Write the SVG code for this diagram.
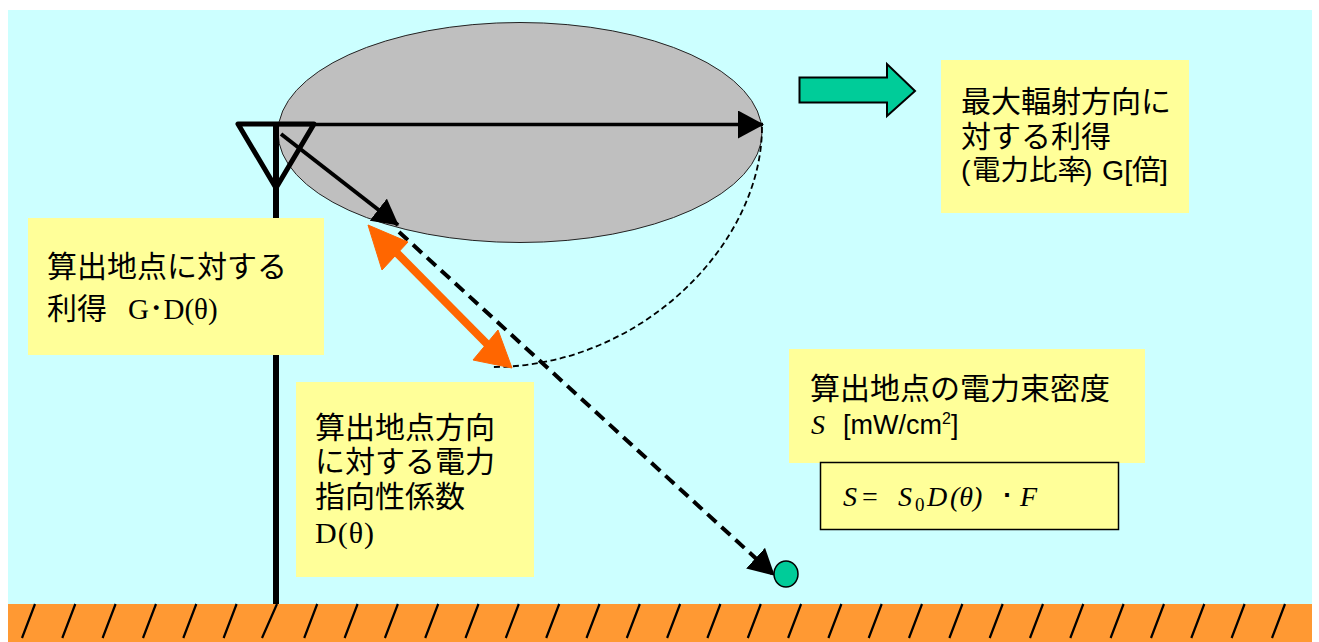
<svg xmlns="http://www.w3.org/2000/svg" width="1319" height="642" viewBox="0 0 1319 642">
<style>
.t{font-family:"Noto Sans CJK JP","Liberation Sans",sans-serif;font-size:30px;fill:#000}
.l{font-family:"Liberation Sans","Noto Sans CJK JP",sans-serif}
.s{font-family:"Liberation Serif","Noto Sans CJK JP",serif}
.m{font-family:"Liberation Serif",serif;font-style:italic;font-size:28px;fill:#000}
.box{fill:#ffff99}
.h{stroke:#000;stroke-width:2.2;fill:none}
</style>
<defs>
<marker id="bh" markerUnits="userSpaceOnUse" markerWidth="26" markerHeight="28" refX="25" refY="14" orient="auto"><path d="M0,0L26,14L0,28Z" fill="#000"/></marker>
</defs>
<rect width="1319" height="642" fill="#fff"/>
<rect x="8" y="10" width="1304" height="594" fill="#ccffff"/>
<g id="ground">
<rect x="8" y="604" width="1304" height="38" fill="#ff9933"/>
<path class="h" d="M35,604L22,638M75.300,604L62.300,638M115.600,604L102.600,638M156,604L143,638M196.300,604L183.300,638M236.600,604L223.600,638M277,604L262,638M317.200,604L304.200,638M357.600,604L344.600,638M397.900,604L384.900,638M438.200,604L425.200,638M478.500,604L465.500,638M518.800,604L505.800,638M559.200,604L546.200,638M599.500,604L586.500,638M639.800,604L626.800,638M680.100,604L667.100,638M720.400,604L707.400,638M760.800,604L747.800,638M801.100,604L788.100,638M841.400,604L828.400,638M881.700,604L868.700,638M922,604L909,638M962.400,604L949.400,638M1002.700,604L989.700,638M1043,604L1030,638M1083.300,604L1070.300,638M1123.600,604L1110.600,638M1164,604L1151,638M1204.300,604L1191.300,638M1244.600,604L1231.600,638M1285,604L1272,638"/>
</g>
<g id="pattern">
<ellipse cx="520" cy="132.500" rx="242" ry="110" fill="#bfbfbf" stroke="#222" stroke-width="1"/>
</g>
<g id="antenna">
<path d="M276,124V604" stroke="#000" stroke-width="6" fill="none"/>
<path d="M238,124H314L276,188Z" stroke="#000" stroke-width="5" fill="none" stroke-linejoin="round"/>
</g>
<g id="connectors">
<path d="M762,127C762,245 640,367 493,367" fill="none" stroke="#000" stroke-width="1.800" stroke-dasharray="6 3.500"/>
<path d="M276,124.500H763" stroke="#000" stroke-width="3.500" marker-end="url(#bh)"/>
<path d="M281,134L398,225" stroke="#000" stroke-width="4" marker-end="url(#bh)"/>
<path d="M399,232L774,575" stroke="#000" stroke-width="4" stroke-dasharray="12 7" marker-end="url(#bh)"/>
<path d="M392,248L490,347" stroke="#ff6600" stroke-width="8"/>
<path d="M368,225L408,242L382,270Z" fill="#ff6600" stroke="#ff6600" stroke-width="1"/>
<path d="M512,368L473,360L498,330Z" fill="#ff6600" stroke="#ff6600" stroke-width="1"/>
</g>
<g id="target"><ellipse cx="786" cy="574" rx="12" ry="13" fill="#00cc99" stroke="#000" stroke-width="1.500"/></g>
<g id="direction-arrow"><path d="M799.500,77.500H887V64L915,91L887,116V102.500H799.500Z" fill="#00cc99" stroke="#000" stroke-width="2"/></g>
<g id="label-max">
<rect class="box" x="941" y="60" width="248" height="153"/>
<text class="t" x="961" y="112">最大輻射方向に</text>
<text class="t" x="961" y="147">対する利得</text>
<text class="t" y="180" style="font-size:28.500px"><tspan class="l" x="961">(</tspan><tspan x="972">電力比率</tspan><tspan class="l" x="1083">)</tspan><tspan class="l" x="1102">G[</tspan><tspan x="1132">倍</tspan><tspan class="l" x="1160">]</tspan></text>
</g>
<g id="label-gain">
<rect class="box" x="28" y="218" width="296" height="137"/>
<text class="t" x="47" y="277">算出地点に対する</text>
<text class="t" x="47" y="319">利得<tspan class="s" x="128" style="font-size:29px">G･D(θ)</tspan></text>
</g>
<g id="label-directivity">
<rect class="box" x="296" y="382" width="238" height="195"/>
<text class="t" x="315" y="438">算出地点方向</text>
<text class="t" x="315" y="472">に対する電力</text>
<text class="t" x="315" y="507">指向性係数</text>
<text class="t s" x="315" y="543" style="letter-spacing:1px">D(θ)</text>
</g>
<g id="label-density">
<rect class="box" x="789" y="349" width="356" height="114"/>
<text class="t" x="810" y="399">算出地点の電力束密度</text>
<text class="m" x="811" y="434">S</text>
<text class="t l" x="843" y="434" style="font-size:27px">[mW/cm<tspan dy="-10" style="font-size:16px">2</tspan><tspan dy="10">]</tspan></text>
</g>
<g id="formula">
<rect class="box" x="820.500" y="462.500" width="298" height="67" stroke="#000" stroke-width="1.500"/>
<text class="m" y="506"><tspan x="843">S</tspan><tspan x="862" style="font-style:normal">=</tspan><tspan x="898">S</tspan><tspan x="915" dy="5" style="font-size:19px;font-style:normal">0</tspan><tspan x="927" dy="-5">D</tspan><tspan x="950">(θ)</tspan><tspan x="1000" style="font-style:normal">･</tspan><tspan x="1020">F</tspan></text>
</g>
</svg>
